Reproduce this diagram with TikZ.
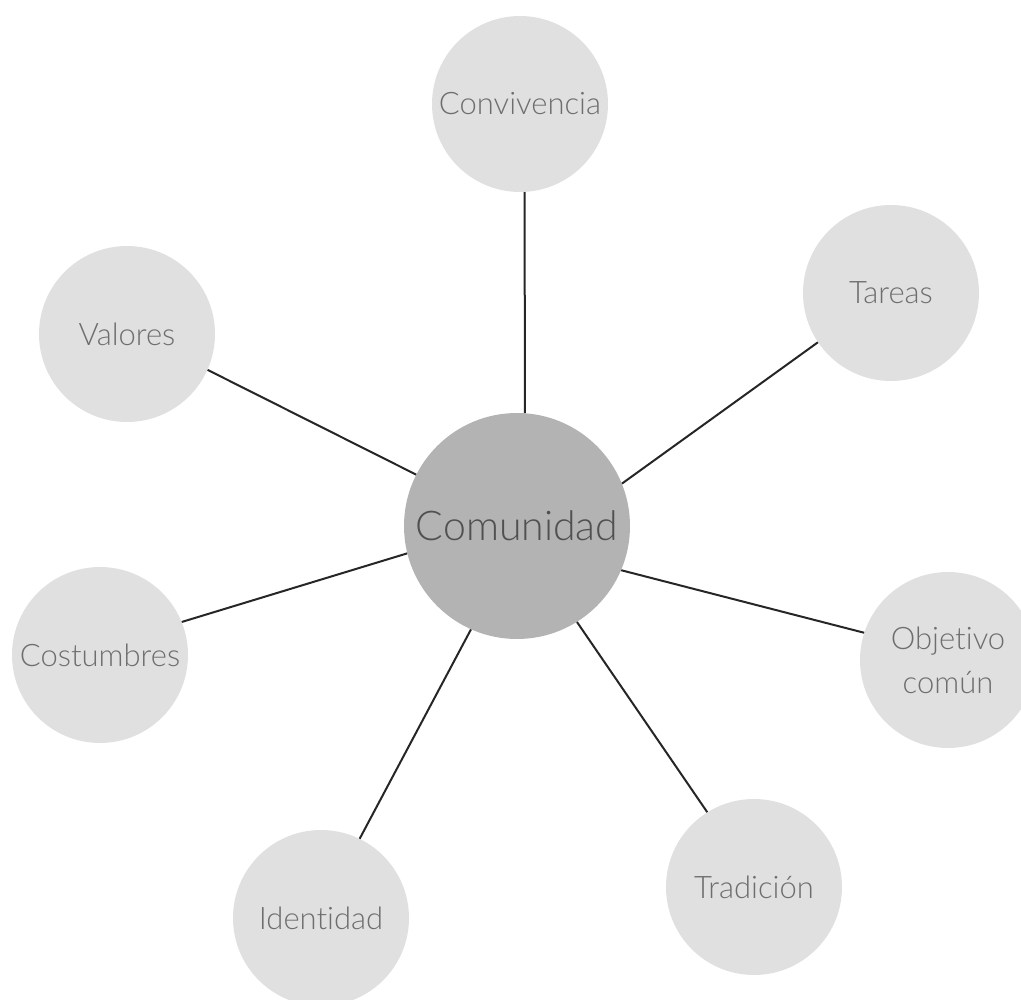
\documentclass[tikz,border=0pt]{standalone}
\usepackage{fontspec}
\setmainfont{Lato Light}[Ligatures=NoCommon]
\definecolor{outerfill}{HTML}{E0E0E0}
\definecolor{centerfill}{HTML}{B3B3B3}
\definecolor{outertext}{HTML}{6E6E6E}
\definecolor{centertext}{HTML}{505050}
\begin{document}
\begin{tikzpicture}[x=1pt,y=-1pt,
  outer/.style={circle,fill=outerfill,minimum size=176pt,inner sep=0pt,text=outertext,font=\fontsize{31}{44}\selectfont,align=center},
  hub/.style={circle,fill=centerfill,minimum size=226pt,inner sep=0pt,text=centertext,font=\fontsize{41}{46}\selectfont},
  link/.style={line width=2pt,black!85}]
\useasboundingbox (0,0) rectangle (1021,1000);
\node[hub] (c) at (517,526) {Comunidad};
\node[outer] (conv) at (520,104) {Convivencia};
\node[outer] (tar) at (891,293) {Tareas};
\node[outer] (val) at (127,334) {Valores};
\node[outer] (cos) at (100,655) {Costumbres};
\node[outer] (obj) at (948,660) {Objetivo\\común};
\node[outer] (tra) at (754,887) {Tradición};
\node[outer] (ide) at (321,918) {Identidad};
\draw[link] (c.86) -- (conv.-87);
\draw[link] (c.22) -- (tar.214);
\draw[link] (c.153) -- (val.-24);
\draw[link] (c.194) -- (cos.22);
\draw[link] (c.-23) -- (obj.162);
\draw[link] (c.-58) -- (tra.122);
\draw[link] (c.246) -- (ide.64);
\end{tikzpicture}
\end{document}
